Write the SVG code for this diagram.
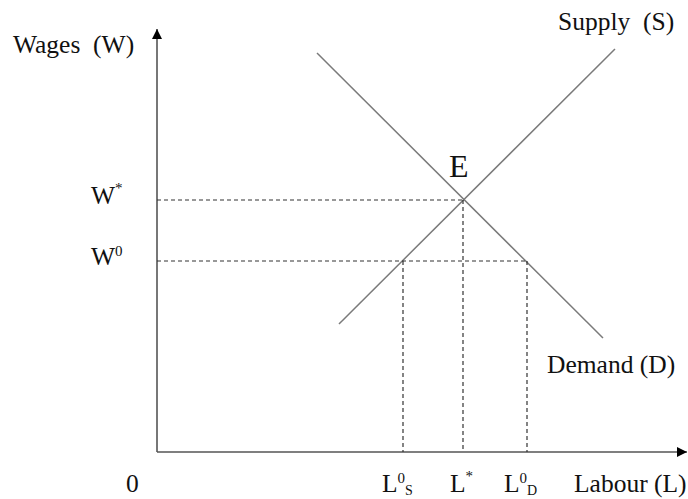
<svg xmlns="http://www.w3.org/2000/svg" width="688" height="499" viewBox="0 0 688 499">
<style>
text{font-family:"Liberation Serif","Times New Roman",serif;fill:#111;}
.lbl{font-size:25.5px;}
.sup{font-size:15px;}
.sub{font-size:14px;}
.axis{stroke:#555;stroke-width:1.6;fill:none;}
.curve{stroke:#7a7a7a;stroke-width:1.5;fill:none;}
.dash{stroke:#333;stroke-width:1.2;stroke-dasharray:4 3;fill:none;}
</style>
<defs>
<marker id="arr" viewBox="0 0 10 10" refX="10" refY="5" markerWidth="10" markerHeight="10" markerUnits="userSpaceOnUse" orient="auto">
<path d="M0,0 L10,5 L0,10 Z" fill="#000"/>
</marker>
</defs>
<rect width="688" height="499" fill="#fff"/>
<g id="connectors">
<line class="axis" x1="157" y1="452" x2="157" y2="29" marker-end="url(#arr)"/>
<line class="axis" x1="157" y1="452" x2="687" y2="452" marker-end="url(#arr)"/>
<line class="curve" x1="339" y1="324" x2="615" y2="49"/>
<line class="curve" x1="317" y1="53" x2="603" y2="338"/>
<line class="dash" x1="157" y1="200" x2="463" y2="200"/>
<line class="dash" x1="157" y1="261" x2="527" y2="261"/>
<line class="dash" x1="403" y1="261" x2="403" y2="452"/>
<line class="dash" x1="463" y1="200" x2="463" y2="452"/>
<line class="dash" x1="527" y1="261" x2="527" y2="452"/>
</g>
<g id="y-axis-label"><text class="lbl" x="13" y="53">Wages&#160; (W)</text></g>
<g id="supply-label"><text class="lbl" x="558" y="30">Supply&#160; (S)</text></g>
<g id="demand-label"><text class="lbl" x="547" y="373">Demand (D)</text></g>
<g id="equilibrium-label"><text x="449" y="177" style="font-size:32px">E</text></g>
<g id="w-star"><text class="lbl" x="91" y="204">W<tspan class="sup" dy="-11">*</tspan></text></g>
<g id="w-zero"><text class="lbl" x="91" y="265">W<tspan class="sup" dy="-9">0</tspan></text></g>
<g id="origin"><text class="lbl" x="126" y="492">0</text></g>
<g id="l-zero-s"><text class="lbl" x="382" y="492">L<tspan class="sup" dy="-9">0</tspan><tspan class="sub" dy="12">S</tspan></text></g>
<g id="l-star"><text class="lbl" x="450" y="492">L<tspan class="sup" dy="-11">*</tspan></text></g>
<g id="l-zero-d"><text class="lbl" x="504" y="492">L<tspan class="sup" dy="-9">0</tspan><tspan class="sub" dy="12">D</tspan></text></g>
<g id="x-axis-label"><text class="lbl" x="574" y="492">Labour (L)</text></g>
</svg>
